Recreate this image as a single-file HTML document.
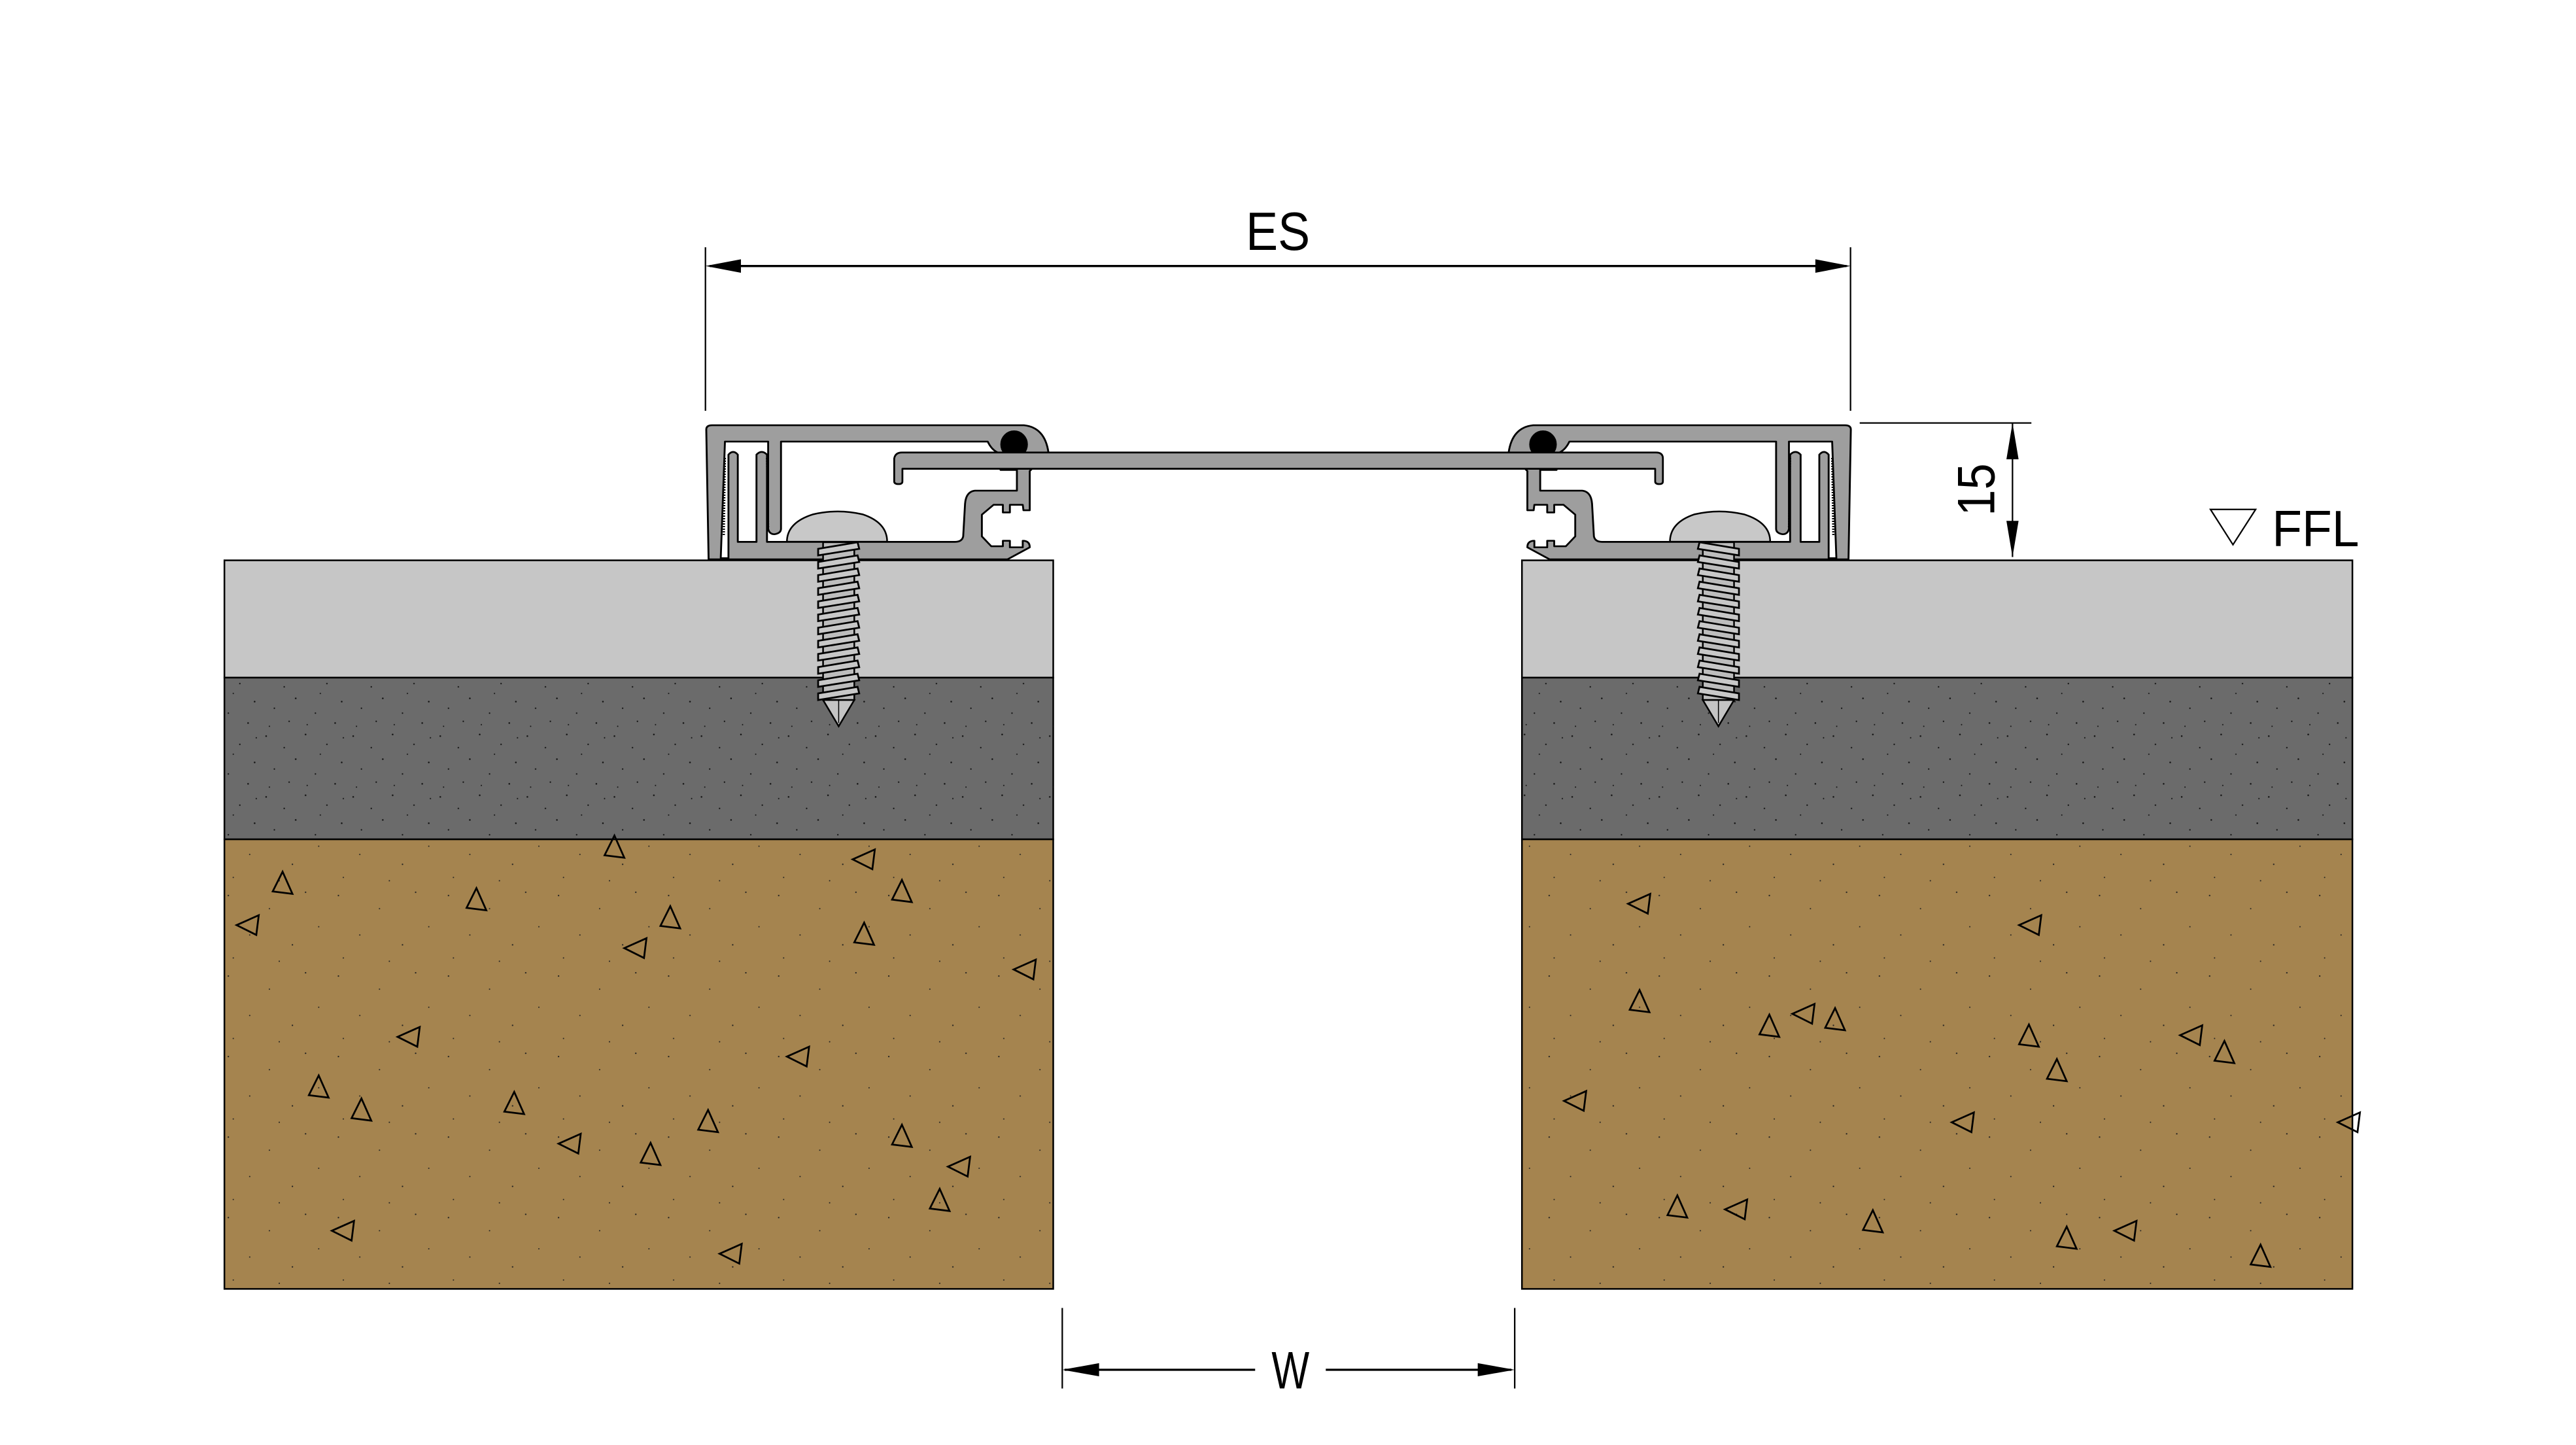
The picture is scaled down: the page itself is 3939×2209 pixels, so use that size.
<!DOCTYPE html>
<html><head><meta charset="utf-8"><style>
html,body{margin:0;padding:0;background:#fff;width:3939px;height:2209px;overflow:hidden}
svg{display:block}
text{font-family:"DejaVu Sans ExtraLight","Liberation Sans",sans-serif;font-weight:200;fill:#000}
</style></head><body>
<svg width="3939" height="2209" viewBox="0 0 1568 879.4" preserveAspectRatio="none" xmlns="http://www.w3.org/2000/svg">
<defs>
<pattern id="gdots" width="53" height="37" patternUnits="userSpaceOnUse">
<g fill="#111">
<circle cx="3" cy="4" r="0.5"/><circle cx="14" cy="11" r="0.45"/><circle cx="27" cy="3" r="0.5"/><circle cx="40" cy="9" r="0.45"/><circle cx="49" cy="20" r="0.5"/><circle cx="8" cy="24" r="0.45"/><circle cx="21" cy="18" r="0.5"/><circle cx="33" cy="27" r="0.45"/><circle cx="45" cy="33" r="0.5"/><circle cx="17" cy="32" r="0.45"/><circle cx="36" cy="15" r="0.4"/><circle cx="5" cy="35" r="0.4"/><circle cx="28" cy="34" r="0.4"/><circle cx="50" cy="5" r="0.4"/>
</g></pattern>
<pattern id="bdots" width="67" height="49" patternUnits="userSpaceOnUse">
<g fill="#222">
<circle cx="5" cy="6" r="0.45"/><circle cx="30" cy="14" r="0.4"/><circle cx="52" cy="4" r="0.45"/><circle cx="18" cy="30" r="0.4"/><circle cx="44" cy="36" r="0.45"/><circle cx="60" cy="25" r="0.4"/><circle cx="8" cy="44" r="0.4"/><circle cx="36" cy="46" r="0.4"/>
</g></pattern>
<g id="tri"><path d="M0,-7.5 L6,6 L-6,4.5 Z" fill="none" stroke="#000" stroke-width="1.1"/></g>
<g id="tri2"><path d="M7.5,-6 L6,6 L-6,0 Z" fill="none" stroke="#000" stroke-width="1.1"/></g>
<g id="screw">
<rect x="501" y="330" width="19" height="96" fill="#bdbdbd" stroke="#000" stroke-width="1"/>
<g stroke="#000" stroke-width="1.1" fill="#c8c8c8">
<path d="M498,334 L522,330 L523,334 L498,338 Z"/>
<path d="M498,342 L522,338 L523,342 L498,346 Z"/>
<path d="M498,350 L522,346 L523,350 L498,354 Z"/>
<path d="M498,358 L522,354 L523,358 L498,362 Z"/>
<path d="M498,366 L522,362 L523,366 L498,370 Z"/>
<path d="M498,374 L522,370 L523,374 L498,378 Z"/>
<path d="M498,382 L522,378 L523,382 L498,386 Z"/>
<path d="M498,390 L522,386 L523,390 L498,394 Z"/>
<path d="M498,398 L522,394 L523,398 L498,402 Z"/>
<path d="M498,406 L522,402 L523,406 L498,410 Z"/>
<path d="M498,414 L522,410 L523,414 L498,418 Z"/>
<path d="M498,422 L522,418 L523,422 L498,426 Z"/>
</g>
<path d="M501,426 L520,426 L510.5,442 Z" fill="#c4c4c4" stroke="#000" stroke-width="1"/>
<line x1="510.5" y1="426" x2="510.5" y2="440" stroke="#000" stroke-width="0.6"/>
<path d="M479,329.7 Q479,318 495,313 Q510,309.5 525,313 Q540,318 540,329.7 Z" fill="#c8c8c8" stroke="#000" stroke-width="1"/>
</g>
<g id="prof">
<g transform="translate(429.9,254.8) scale(0.14217,0.1327)" stroke="#000" stroke-width="8" stroke-linejoin="round">
<path fill="#9e9e9e" d="M10,645 L0,50 Q0,30 25,30 L1360,30 Q1450,40 1465,155 L1385,240 L1385,420 L1358,420 L1355,395 L1300,395 L1300,430 L1270,430 L1270,395 L1230,395 L1180,440 L1180,540 L1220,585 L1270,585 L1270,560 L1300,560 L1300,590 L1355,590 L1355,560 Q1385,560 1385,590 L1290,645 Z"/>
<path fill="#fff" d="M80,105 L265,105 L265,505 Q270,530 292,530 Q320,525 320,505 L320,105 L1205,105 Q1225,150 1260,160 L1260,235 L1330,235 L1330,330 L1150,330 Q1112,335 1108,390 L1100,540 Q1095,565 1065,565 L260,565 L260,165 Q237,140 215,165 L215,565 L135,565 L135,165 Q115,140 95,165 L95,640 L62,640 Z"/>
<ellipse cx="1318" cy="118" rx="55" ry="60" fill="#000"/>
<path d="M80,180 L75,540 M260,180 L265,500" stroke-dasharray="6 6" stroke-width="9" fill="none"/>
</g>
<use href="#screw"/>
</g>
</defs>

<g stroke="#000" stroke-width="1">
<rect x="136.6" y="341" width="504.5" height="71.4" fill="#c6c6c6"/>
<rect x="136.6" y="412.4" width="504.5" height="98.4" fill="#6b6b6b"/>
<rect x="136.6" y="412.4" width="504.5" height="98.4" fill="url(#gdots)" stroke="none"/>
<rect x="136.6" y="510.8" width="504.5" height="273.6" fill="#a5844f"/>
<rect x="136.6" y="510.8" width="504.5" height="273.6" fill="url(#bdots)" stroke="none"/>
<rect x="926.4" y="341" width="505.5" height="71.4" fill="#c6c6c6"/>
<rect x="926.4" y="412.4" width="505.5" height="98.4" fill="#6b6b6b"/>
<rect x="926.4" y="412.4" width="505.5" height="98.4" fill="url(#gdots)" stroke="none"/>
<rect x="926.4" y="510.8" width="505.5" height="273.6" fill="#a5844f"/>
<rect x="926.4" y="510.8" width="505.5" height="273.6" fill="url(#bdots)" stroke="none"/>
</g>

<g>
<use href="#tri" x="172" y="538"/><use href="#tri" x="290" y="548"/><use href="#tri2" x="150" y="563"/><use href="#tri" x="408" y="559"/><use href="#tri2" x="386" y="577"/><use href="#tri2" x="525" y="523"/><use href="#tri" x="549" y="543"/><use href="#tri" x="526" y="569"/><use href="#tri2" x="623" y="590"/><use href="#tri2" x="248" y="631"/><use href="#tri" x="194" y="662"/><use href="#tri" x="220" y="676"/><use href="#tri" x="313" y="672"/><use href="#tri2" x="346" y="696"/><use href="#tri" x="396" y="703"/><use href="#tri" x="431" y="683"/><use href="#tri2" x="485" y="643"/><use href="#tri" x="549" y="692"/><use href="#tri2" x="583" y="710"/><use href="#tri" x="572" y="731"/><use href="#tri2" x="208" y="749"/><use href="#tri2" x="444" y="763"/><use href="#tri" x="374" y="516"/>
<use href="#tri2" x="997" y="550"/><use href="#tri2" x="1235" y="563"/><use href="#tri" x="998" y="610"/><use href="#tri" x="1077" y="625"/><use href="#tri2" x="1097" y="617"/><use href="#tri" x="1117" y="621"/><use href="#tri" x="1235" y="631"/><use href="#tri" x="1252" y="652"/><use href="#tri2" x="1333" y="630"/><use href="#tri" x="1354" y="641"/><use href="#tri2" x="958" y="670"/><use href="#tri2" x="1194" y="683"/><use href="#tri" x="1021" y="735"/><use href="#tri2" x="1056" y="736"/><use href="#tri" x="1140" y="744"/><use href="#tri" x="1258" y="754"/><use href="#tri2" x="1293" y="749"/><use href="#tri" x="1376" y="765"/><use href="#tri2" x="1429" y="683"/>
</g>

<use href="#prof"/>
<use href="#prof" transform="translate(1556.5,0) scale(-1,1)"/>

<path d="M544.3,279 Q545,275.4 549,275.4 L1008,275.4 Q1012.2,275.4 1012.2,279 L1012.2,293 Q1012.2,294.6 1010,294.6 Q1007.5,294.6 1007.5,293 L1007.5,285.3 L549.3,285.3 L549.3,293 Q549.3,294.6 547,294.6 Q544.3,294.6 544.3,293 Z" fill="#9e9e9e" stroke="#000" stroke-width="1.1" stroke-linejoin="round"/>

<g stroke="#000" stroke-width="0.9">
<line x1="429.4" y1="150.5" x2="429.4" y2="250"/>
<line x1="1126.4" y1="150.5" x2="1126.4" y2="250"/>
<line x1="432" y1="161.9" x2="1124" y2="161.9" stroke-width="1.3"/>
</g>
<path d="M429.4,161.9 L451,157.8 L451,166 Z M1126.4,161.9 L1105,157.8 L1105,166 Z" fill="#000"/>
<text x="758.4" y="152" font-size="33" textLength="39" lengthAdjust="spacingAndGlyphs">ES</text>

<g stroke="#000" stroke-width="0.9">
<line x1="646.6" y1="796" x2="646.6" y2="845"/>
<line x1="922" y1="796" x2="922" y2="845"/>
<line x1="648" y1="833.6" x2="764" y2="833.6" stroke-width="1.3"/>
<line x1="807" y1="833.6" x2="920" y2="833.6" stroke-width="1.3"/>
</g>
<path d="M646.6,833.6 L669,829.6 L669,837.6 Z M922,833.6 L899.5,829.6 L899.5,837.6 Z" fill="#000"/>
<text x="774" y="845" font-size="32" textLength="23" lengthAdjust="spacingAndGlyphs">W</text>

<g stroke="#000" stroke-width="0.9">
<line x1="1132" y1="257.4" x2="1236.5" y2="257.4"/>
<line x1="1225" y1="257.4" x2="1225" y2="339"/>
</g>
<path d="M1225,257.4 L1221.3,279.5 L1228.7,279.5 Z M1225,339 L1221.3,317 L1228.7,317 Z" fill="#000"/>
<text transform="translate(1214,314) rotate(-90)" font-size="32" textLength="32" lengthAdjust="spacingAndGlyphs">15</text>

<path d="M1345.5,310 L1373,310 L1359.2,331.5 Z" fill="none" stroke="#000" stroke-width="0.9"/>
<text x="1383" y="332.5" font-size="31" textLength="53" lengthAdjust="spacingAndGlyphs">FFL</text>
</svg>
</body></html>
